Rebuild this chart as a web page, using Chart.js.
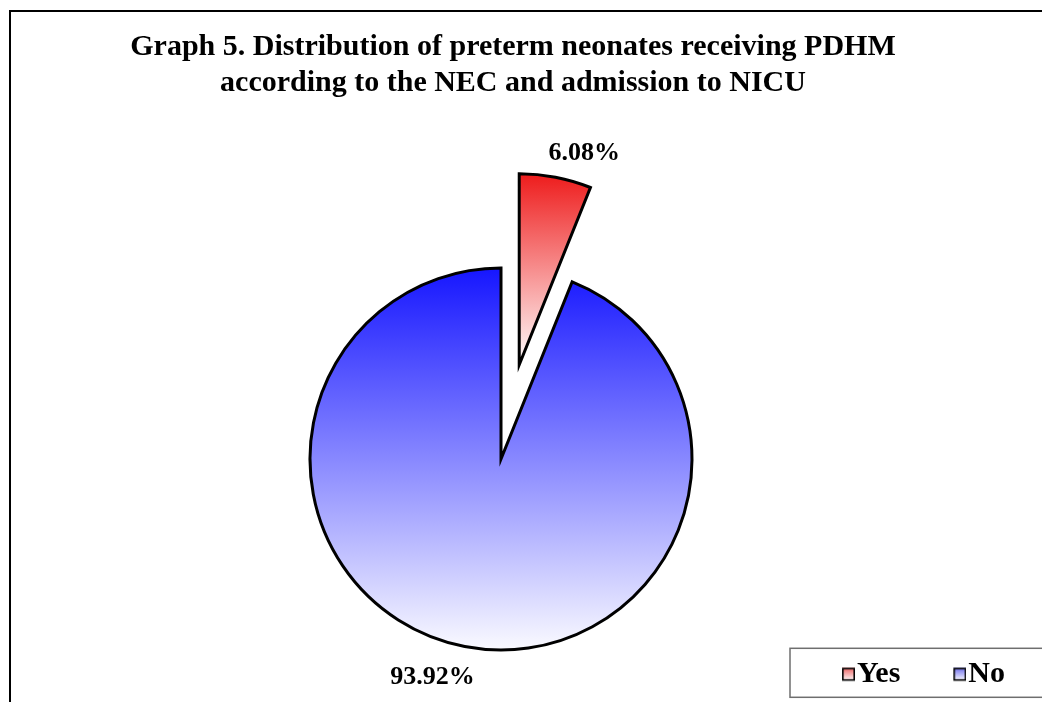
<!DOCTYPE html>
<html>
<head>
<meta charset="utf-8">
<script src="https://cdn.jsdelivr.net/npm/chart.js@4.4.1/dist/chart.umd.min.js"></script>
<style>
  html, body { margin: 0; padding: 0; background: #fff; overflow: hidden; }
  canvas { display: block; }
</style>
</head>
<body>
<canvas id="chart" width="1042" height="702"></canvas>
<script>
// ---- data ----
const categories = ['Yes', 'No'];
const shares = [6.08, 93.92];
const titleLines = [
  'Graph 5. Distribution of preterm neonates receiving PDHM',
  'according to the NEC and admission to NICU'
];

// ---- styling ----
const SERIF = "'Liberation Serif', 'Times New Roman', serif";
const PIE_RADIUS = 191;
const PIE_SHIFT_X = -12;          // pie sits a little left of the title centre
const LEGEND_SHIFT_X = 30;
const explodeBy = [96, 0];        // pull-out distance of each slice
const topColors = ['rgb(238,28,28)', 'rgb(22,22,255)'];
const bottomColors = ['rgb(255,255,255)', 'rgb(250,250,255)'];
const swatchTop = ['rgb(238,100,100)', 'rgb(110,110,238)'];
const labelNudge = [[25, 2.5], [-28.5, 18]];
const LEGEND_FONT = 30;
const LEGEND_PAD = 51;

const total = shares.reduce((s, v) => s + v, 0);

function midAngle(i) {
  let before = 0;
  for (let k = 0; k < i; k++) before += shares[k];
  return -Math.PI / 2 + (before + shares[i] / 2) / total * 2 * Math.PI;
}
function sliceAngles(i) {
  let before = 0;
  for (let k = 0; k < i; k++) before += shares[k];
  const s = -Math.PI / 2 + before / total * 2 * Math.PI;
  return [s, s + shares[i] / total * 2 * Math.PI];
}

// vertical gradient spanning the slice's own height
function sliceFill(ctx) {
  const chart = ctx.chart;
  const a = chart.chartArea;
  const i = ctx.dataIndex;
  if (!a || i === undefined) return topColors[i || 0];
  const cy = (a.top + a.bottom) / 2;
  const oy = cy + Math.sin(midAngle(i)) * explodeBy[i];
  const [s, e] = sliceAngles(i);
  const ys = [oy, oy + PIE_RADIUS * Math.sin(s), oy + PIE_RADIUS * Math.sin(e)];
  const has = (ang) => {
    for (let k = -2; k <= 2; k++) {
      const t = ang + k * 2 * Math.PI;
      if (t >= s && t <= e) return true;
    }
    return false;
  };
  if (has(-Math.PI / 2)) ys.push(oy - PIE_RADIUS);
  if (has(Math.PI / 2)) ys.push(oy + PIE_RADIUS);
  const y0 = Math.min(...ys), y1 = Math.max(...ys);
  const g = chart.ctx.createLinearGradient(0, y0, 0, y1);
  g.addColorStop(0, topColors[i]);
  g.addColorStop(1, bottomColors[i]);
  return g;
}

// small gradient squares for the legend, set close to their text
function legendSwatch(i) {
  const half = LEGEND_FONT / 2;
  const w = 2 + 2 * half - 4;
  const c = document.createElement('canvas');
  c.width = w; c.height = 16;
  const x = c.getContext('2d');
  const bx = w - 13, by = 1.5;
  const g = x.createLinearGradient(0, by, 0, by + 13);
  g.addColorStop(0, swatchTop[i]);
  g.addColorStop(1, '#ffffff');
  x.fillStyle = g;
  x.fillRect(bx, by, 13, 13);
  x.strokeStyle = '#000';
  x.lineWidth = 1.6;
  x.strokeRect(bx + 0.8, by + 0.8, 11.4, 11.4);
  return c;
}

const framePlugin = {
  id: 'frame',
  beforeDraw(chart) {
    const c = chart.ctx;
    c.save();
    c.fillStyle = '#fff';
    c.fillRect(0, 0, chart.width, chart.height);
    c.strokeStyle = '#000';
    c.lineWidth = 2;
    c.strokeRect(10, 11, chart.width + 40, chart.height + 40);
    c.restore();
  },
  afterLayout(chart) {
    const a = chart.chartArea;
    a.left += 2 * PIE_SHIFT_X;
    a.width = a.right - a.left;
    chart.legend.left += LEGEND_SHIFT_X;
    chart.legend.right += LEGEND_SHIFT_X;
  },
  afterDraw(chart) {
    const lg = chart.legend;
    const hb = lg.legendHitBoxes[0];
    if (!hb) return;
    const midY = lg.top + LEGEND_PAD + LEGEND_FONT / 2;
    const c = chart.ctx;
    c.save();
    c.strokeStyle = '#6e6e6e';
    c.lineWidth = 1.5;
    c.strokeRect(hb.left - 50, midY - 26, chart.width, 49);
    c.restore();
  }
};

// pull slices out along their bisector
const explodePlugin = {
  id: 'explode',
  afterDatasetUpdate(chart, args) {
    args.meta.data.forEach((el, i) => {
      const d = explodeBy[i] || 0;
      if (!d) return;
      const m = (el.startAngle + el.endAngle) / 2;
      el.x += Math.cos(m) * d;
      el.y += Math.sin(m) * d;
    });
  }
};

const valueLabels = {
  id: 'valueLabels',
  afterDatasetsDraw(chart) {
    const c = chart.ctx;
    const meta = chart.getDatasetMeta(0);
    c.save();
    c.font = 'bold 26px ' + SERIF;
    c.fillStyle = '#000';
    c.textAlign = 'center';
    c.textBaseline = 'alphabetic';
    meta.data.forEach((el, i) => {
      const m = (el.startAngle + el.endAngle) / 2;
      const r = el.outerRadius + 20;
      const x = el.x + Math.cos(m) * r + labelNudge[i][0];
      const y = el.y + Math.sin(m) * r + labelNudge[i][1];
      c.fillText(shares[i].toFixed(2) + '%', x, y);
    });
    c.restore();
  }
};

new Chart(document.getElementById('chart'), {
  type: 'pie',
  data: {
    labels: categories,
    datasets: [{
      data: shares,
      backgroundColor: sliceFill,
      borderColor: '#000',
      borderWidth: 3,
      borderJoinStyle: 'miter'
    }]
  },
  options: {
    responsive: false,
    animation: false,
    events: [],
    radius: PIE_RADIUS,
    layout: { padding: { top: 0, left: 0, right: 16, bottom: 2.7 } },
    plugins: {
      title: {
        display: true,
        text: titleLines,
        color: '#000',
        font: { family: SERIF, size: 30, weight: 'bold', lineHeight: 1.2133 },
        padding: { top: 28.7, bottom: 208.2 }
      },
      legend: {
        position: 'bottom',
        align: 'end',
        labels: {
          usePointStyle: true,
          pointStyleWidth: 2,
          padding: LEGEND_PAD,
          color: '#000',
          font: { family: SERIF, size: LEGEND_FONT, weight: 'bold' },
          generateLabels: () => categories.map((t, i) => ({
            text: t,
            fillStyle: topColors[i],
            strokeStyle: '#000',
            lineWidth: 0,
            pointStyle: legendSwatch(i),
            fontColor: '#000',
            hidden: false,
            index: i
          }))
        }
      },
      tooltip: { enabled: false }
    }
  },
  plugins: [framePlugin, explodePlugin, valueLabels]
});
</script>
</body>
</html>
